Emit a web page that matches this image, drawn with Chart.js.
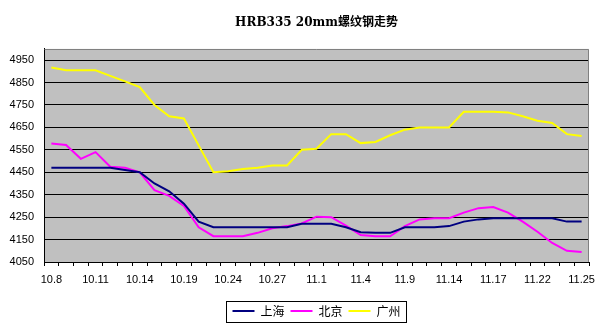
<!DOCTYPE html>
<html><head><meta charset="utf-8">
<script src="https://cdn.jsdelivr.net/npm/chart.js@4"></script>
<style>html,body{margin:0;padding:0;background:#fff;}canvas{display:block;}</style>
</head><body>
<canvas id="c" width="599" height="325"></canvas>
<script>
const chartTitle = 'HRB335 20mm螺纹钢走势';
const tickLabels = ['10.8','10.11','10.14','10.19','10.24','10.27','11.1','11.4','11.9','11.14','11.17','11.22','11.25'];
const categories = [
  '10.8','','','10.11','','','10.14','','','10.19','','','10.24','','','10.27','','','11.1',
  '','','11.4','','','11.9','','','11.14','','','11.17','','','11.22','','','11.25'
];
const seriesNames = ['上海', '北京', '广州'];
const shanghai = [4470,4470,4470,4470,4470,4460,4450,4400,4365,4310,4230,4205,4205,4205,4205,4205,4205,4220,4220,4220,
                  4205,4183,4180,4180,4205,4205,4205,4210,4230,4240,4245,4245,4245,4245,4245,4230,4230];
const beijing  = [4578,4572,4510,4540,4475,4470,4450,4370,4345,4300,4205,4165,4165,4165,4180,4200,4210,4222,4252,4250,
                  4212,4170,4165,4165,4210,4240,4245,4245,4270,4290,4295,4270,4230,4185,4135,4100,4095];
const guangzhou = [4917,4905,4905,4905,4880,4855,4830,4750,4700,4690,4570,4450,4455,4465,4470,4480,4480,4550,4555,4620,
                   4620,4580,4585,4615,4640,4650,4650,4650,4720,4720,4720,4717,4700,4680,4670,4620,4612];
const yTicks = [4050,4150,4250,4350,4450,4550,4650,4750,4850,4950];
const yMin = 4050;
const yMax = 5000;
const colors = ['#000080', '#FF00FF', '#FFFF00'];

const plotBg = {
  id: 'plotBg',
  beforeDraw(chart) {
    const {ctx, chartArea: a} = chart;
    ctx.save();
    ctx.fillStyle = '#C0C0C0';
    ctx.fillRect(a.left, a.top, a.right - a.left, a.bottom - a.top);
    ctx.restore();
  },
  afterDraw(chart) {
    const {ctx, chartArea: a} = chart;
    ctx.save();
    ctx.strokeStyle = '#808080';
    ctx.lineWidth = 1;
    ctx.beginPath();
    ctx.moveTo(Math.round(a.left) + 0.5, Math.round(a.top) + 0.5);
    ctx.lineTo(Math.round(a.right) - 0.5, Math.round(a.top) + 0.5);
    ctx.lineTo(Math.round(a.right) - 0.5, Math.round(a.bottom));
    ctx.stroke();
    const hb = chart.legend.legendHitBoxes;
    if (hb && hb.length) {
      const f = hb[0], l = hb[hb.length - 1];
      const cy = f.top + f.height / 2;
      const x0 = Math.round(f.left - 6.5) + 0.5;
      const x1 = Math.round(l.left + l.width + 5) + 0.5;
      const y0 = Math.round(cy - 10.5) + 0.5;
      ctx.strokeStyle = '#000';
      ctx.strokeRect(x0, y0, x1 - x0, 21);
    }
    ctx.restore();
  }
};

new Chart(document.getElementById('c'), {
  type: 'line',
  data: {
    labels: categories,
    datasets: [shanghai, beijing, guangzhou].map((d, i) => ({
      label: seriesNames[i],
      data: d,
      borderColor: colors[i],
      backgroundColor: colors[i],
      borderWidth: 2,
      pointRadius: 0,
      tension: 0,
      fill: false
    }))
  },
  options: {
    responsive: false,
    animation: false,
    devicePixelRatio: 1,
    layout: {padding: {left: 0, right: 10, top: 0, bottom: -2}},
    plugins: {
      title: {
        display: true,
        text: chartTitle,
        fullSize: false,
        color: '#000',
        font: {family: "'DejaVu Serif', 'Noto Sans CJK SC'", size: 12, weight: 'bold'},
        padding: {top: 15.5, bottom: 19}
      },
      legend: {
        position: 'bottom',
        fullSize: false,
        labels: {
          color: '#000',
          font: {family: "'Noto Sans CJK SC', 'Liberation Sans'", size: 12},
          boxWidth: 22,
          boxHeight: 2,
          padding: 6,
          generateLabels: chart => chart.data.datasets.map((ds, i) => ({
            text: ds.label, fillStyle: ds.borderColor, strokeStyle: ds.borderColor,
            lineWidth: 0, hidden: false, datasetIndex: i, fontColor: '#000'
          }))
        }
      },
      tooltip: {enabled: false}
    },
    scales: {
      x: {
        type: 'category',
        offset: true,
        grid: {offset: true, drawOnChartArea: false, drawTicks: true, tickLength: 4, color: '#000'},
        border: {display: true, color: '#000', width: 1},
        ticks: {
          autoSkip: false, maxRotation: 0, minRotation: 0, padding: 7, color: '#000',
          font: {family: "'Liberation Sans'", size: 11},
          callback: (v, i) => categories[i]
        },
        afterFit: s => { s.height = 37; s.paddingLeft = 0; s.paddingRight = 0; }
      },
      y: {
        min: yMin,
        max: yMax,
        afterBuildTicks: s => { s.ticks = yTicks.map(v => ({value: v})); },
        grid: {color: '#000', drawTicks: false, lineWidth: 1},
        border: {display: true, color: '#000', width: 1},
        ticks: {padding: 10, color: '#000', font: {family: "'Liberation Sans'", size: 11},
                callback: v => String(v)},
        afterFit: s => { s.width = 44; s.paddingTop = 0; s.paddingBottom = 0; }
      }
    }
  },
  plugins: [plotBg]
});
</script>
</body></html>
